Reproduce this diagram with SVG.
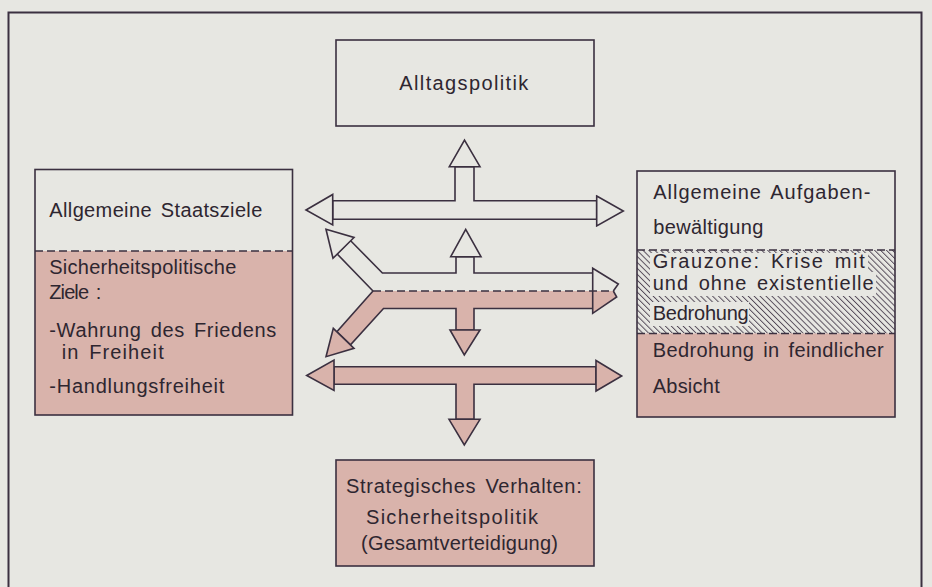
<svg xmlns="http://www.w3.org/2000/svg" width="932" height="587" viewBox="0 0 932 587">
<defs>
<pattern id="hatch" width="4.2" height="4.2" patternUnits="userSpaceOnUse" patternTransform="rotate(-45)">
<line x1="0.5" y1="0" x2="0.5" y2="4.2" stroke="#4a4050" stroke-width="0.9"/>
</pattern>
<style>
.ln{stroke:#3b3040;stroke-width:1.6;stroke-linejoin:miter;}
.no{fill:none}
.wf{fill:#e7e7e2}
.pf{fill:#d9b3ab}
.ds{fill:none;stroke:#3b3040;stroke-width:1.3;stroke-dasharray:8 4}
.t{font-family:"Liberation Sans",Arial,sans-serif;font-size:20px;fill:#2e2630;word-spacing:3px}
</style>
</defs>
<rect x="0" y="0" width="932" height="587" fill="#e7e7e2"/>
<path d="M8.5,587 V12.5 H921.5 V587" fill="none" stroke="#3b3040" stroke-width="2"/>

<g id="alltag">
<rect x="336" y="40" width="258" height="86" class="wf ln"/>
<text class="t" x="399.3" y="90" textLength="129" lengthAdjust="spacing">Alltagspolitik</text>
</g>

<g id="staatsziele">
<rect x="35" y="169.5" width="257.5" height="245.5" class="wf"/>
<rect x="35" y="251" width="257.5" height="164" class="pf"/>
<line x1="35" y1="251" x2="292.5" y2="251" class="ds"/>
<rect x="35" y="169.5" width="257.5" height="245.5" class="no ln"/>
<text class="t" x="49.3" y="217.3" textLength="213" lengthAdjust="spacing">Allgemeine Staatsziele</text>
<text class="t" x="49.3" y="274.3" textLength="187" lengthAdjust="spacing">Sicherheitspolitische</text>
<text class="t" x="49.3" y="299.3" textLength="52" lengthAdjust="spacing">Ziele :</text>
<text class="t" x="49.3" y="336.7" textLength="227" lengthAdjust="spacing">-Wahrung des Friedens</text>
<text class="t" x="61.7" y="359.3" textLength="102" lengthAdjust="spacing">in Freiheit</text>
<text class="t" x="49.3" y="393.3" textLength="175" lengthAdjust="spacing">-Handlungsfreiheit</text>
</g>

<g id="aufgaben">
<rect x="637" y="171" width="258" height="246" class="wf"/>
<rect x="637" y="250" width="258" height="83.5" fill="url(#hatch)"/>
<rect x="650" y="253" width="218" height="19" class="wf"/>
<rect x="650" y="272" width="226" height="24" class="wf"/>
<rect x="650" y="302" width="99" height="24" class="wf"/>
<rect x="637" y="333.5" width="258" height="83.5" class="pf"/>
<line x1="637" y1="250" x2="895" y2="250" class="ds"/>
<line x1="637" y1="333.5" x2="895" y2="333.5" class="ds"/>
<rect x="637" y="171" width="258" height="246" class="no ln"/>
<text class="t" x="653.3" y="199.3" textLength="217" lengthAdjust="spacing">Allgemeine Aufgaben-</text>
<text class="t" x="653.3" y="234" textLength="110" lengthAdjust="spacing">bewältigung</text>
<text class="t" x="652.7" y="267.5" textLength="212" lengthAdjust="spacing">Grauzone: Krise mit</text>
<text class="t" x="652.7" y="290" textLength="221" lengthAdjust="spacing">und ohne existentielle</text>
<text class="t" x="652.7" y="320" textLength="96" lengthAdjust="spacing">Bedrohung</text>
<text class="t" x="652.7" y="356.7" textLength="231" lengthAdjust="spacing">Bedrohung in feindlicher</text>
<text class="t" x="652.7" y="393" textLength="67" lengthAdjust="spacing">Absicht</text>
</g>

<g id="strategie">
<rect x="336" y="460" width="258" height="106" class="pf ln"/>
<text class="t" x="346" y="493.3" textLength="235.7" lengthAdjust="spacing">Strategisches Verhalten:</text>
<text class="t" x="366" y="524" textLength="172" lengthAdjust="spacing">Sicherheitspolitik</text>
<text class="t" x="361" y="550" textLength="197" lengthAdjust="spacing">(Gesamtverteidigung)</text>
</g>

<g id="connectors">
<!-- top hollow T arrow -->
<polygon points="332.7,200.7 455,200.7 455,166.7 474,166.7 474,200.7 596.7,200.7 596.7,219.3 332.7,219.3" class="wf ln"/>
<polygon points="306,210 332.7,194.5 332.7,225" class="wf ln"/>
<polygon points="596.7,196 623.3,211 596.7,226" class="wf ln"/>
<polygon points="449.3,166.7 480,166.7 464.5,140" class="wf ln"/>

<!-- middle split arrow: white upper half -->
<polygon points="373,291 336.9,253.7 350.2,240.3 382.4,273 456,273 456,256.7 474,256.7 474,273 592.7,273 592.7,291" class="wf"/>
<polyline points="373,291 336.9,253.7 350.2,240.3 382.4,273 456,273 456,256.7 474,256.7 474,273 592.7,273" class="no ln"/>
<polygon points="450.7,256.7 481,256.7 465.7,229.3" class="wf ln"/>
<polygon points="326,229.3 354,237.5 333,258.3" class="wf ln"/>
<polygon points="592.7,268.3 618.3,284 613.3,291 592.7,291" class="wf"/>
<polyline points="592.7,291 592.7,268.3 618.3,284 613.3,291" class="no ln"/>

<!-- middle split arrow: pink lower half -->
<polygon points="373,291 592.7,291 592.7,308.5 474,308.5 474,330 456,330 456,308.5 383.5,308.5 350.5,344.9 336.9,331.7" class="pf"/>
<polyline points="592.7,308.5 474,308.5 474,330 456,330 456,308.5 383.5,308.5 350.5,344.9 336.9,331.7 373,291" class="no ln"/>
<polygon points="450,330 480,330 464.3,355" class="pf ln"/>
<polygon points="326,356.7 333.3,328.3 354,348.3" class="pf ln"/>
<polygon points="592.7,291 613.3,291 616.7,297 592.7,313.3" class="pf"/>
<polyline points="613.3,291 616.7,297 592.7,313.3 592.7,291" class="no ln"/>
<line x1="373" y1="291" x2="613" y2="291" class="ds"/>

<!-- bottom pink T arrow -->
<polygon points="334,366.7 596,366.7 596,384.3 474,384.3 474,419.3 456,419.3 456,384.3 334,384.3" class="pf ln"/>
<polygon points="306.7,375.5 334,360 334,390.5" class="pf ln"/>
<polygon points="596,360.5 621.7,376 596,391" class="pf ln"/>
<polygon points="449,419.3 480,419.3 464.3,445" class="pf ln"/>
</g>
</svg>
